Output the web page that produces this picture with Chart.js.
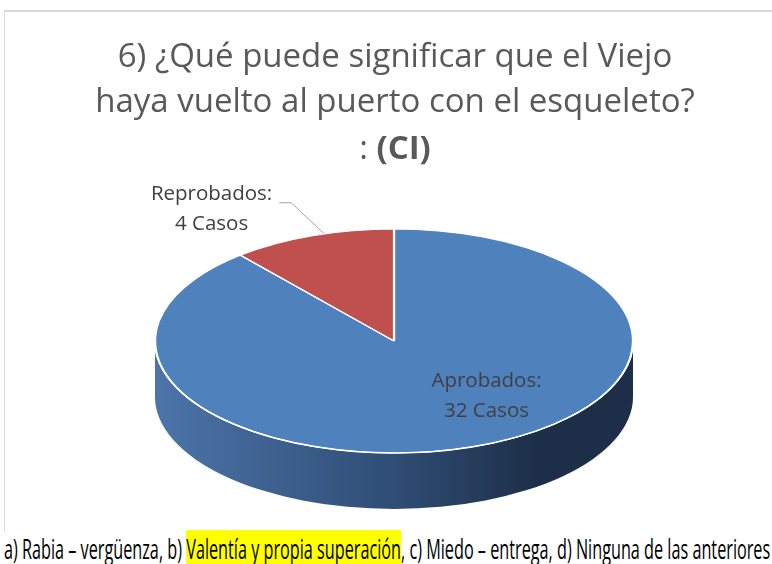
<!DOCTYPE html>
<html>
<head>
<meta charset="utf-8">
<script src="https://cdn.jsdelivr.net/npm/chart.js@4.4.1/dist/chart.umd.min.js"></script>
<style>
  html, body { margin: 0; padding: 0; background: #fff; width: 772px; height: 564px; overflow: hidden; }
  #frame { position: absolute; left: 4px; top: 10px; width: 790px; height: 520px; border-left: 1px solid #d9d9d9; border-top: 2px solid #d9d9d9; }
  #pieChart { position: absolute; left: 0; top: 0; }
  #note { position: absolute; left: 4px; top: 530px; white-space: nowrap; font-family: "Open Sans", sans-serif; font-size: 27px; line-height: normal; color: #000; transform-origin: 0 0; }
  #note mark { background: #ffff00; color: #000; }
</style>
</head>
<body>
<div id="frame"></div>
<canvas id="pieChart" width="772" height="530"></canvas>
<div id="note"></div>
<script>
////// data //////
const categories = ['Aprobados', 'Reprobados'];
const casos = [32, 4];
const sliceColors = ['#4f81bd', '#c0504d'];
const titleLines = ['6) ¿Qué puede significar que el Viejo', 'haya vuelto al puerto con el esqueleto?'];
const titleTail = [': ', '(CI)']; // normal + bold
const respuestas = ['a) Rabia – vergüenza', 'b) Valentía y propia superación', 'c) Miedo – entrega', 'd) Ninguna de las anteriores'];
const correcta = 1; // b)

////// DOM //////
const canvas = document.querySelector('#pieChart');
const note = document.querySelector('#note');

// side shades per slice (left, middle, right)
const sideShades = [['#4c74a9', '#2f4d75', '#1d2f48'], ['#a3423f', '#803533', '#5c2624']];

////// plugins //////
const titlePlugin = {
    id: 'titulo',
    afterDraw(chart, args, opts) {
        const ctx = chart.ctx;
        ctx.save();
        ctx.fillStyle = opts.color;
        ctx.textBaseline = 'middle';
        ctx.textAlign = 'center';
        ctx.font = `${opts.size}px ${opts.family}`;
        titleLines.forEach((t, i) => ctx.fillText(t, opts.x, opts.y + i * opts.lineHeight));
        // last line: normal ":" + bold "(CI)"
        const y = opts.y + titleLines.length * opts.lineHeight + 2;
        ctx.font = `${opts.size}px ${opts.family}`;
        const w1 = ctx.measureText(titleTail[0]).width;
        ctx.font = `bold ${opts.size}px ${opts.family}`;
        const w2 = ctx.measureText(titleTail[1]).width;
        let x = opts.x - (w1 + w2) / 2;
        ctx.textAlign = 'left';
        ctx.font = `${opts.size}px ${opts.family}`;
        ctx.fillText(titleTail[0], x, y);
        ctx.font = `bold ${opts.size}px ${opts.family}`;
        ctx.fillText(titleTail[1], x + w1, y);
        ctx.restore();
    }
};

const pie3d = {
    id: 'pie3d',
    beforeDatasetsDraw(chart, args, opts) {
        const ctx = chart.ctx;
        const arcs = chart.getDatasetMeta(0).data;
        const cx = arcs[0].x, cy = arcs[0].y, R = arcs[0].outerRadius;
        const { rx, ry, depth } = opts;
        // side wall, only the front half (0..PI) shows
        arcs.forEach((arc, i) => {
            const g = ctx.createLinearGradient(cx - rx, 0, cx + rx, 0);
            g.addColorStop(0, sideShades[i][0]);
            g.addColorStop(0.5, sideShades[i][1]);
            g.addColorStop(0.8, sideShades[i][2]);
            g.addColorStop(1, sideShades[i][2]);
            [-2 * Math.PI, 0, 2 * Math.PI].forEach(off => {
                const s = Math.max(arc.startAngle, off);
                const e = Math.min(arc.endAngle, off + Math.PI);
                if (e <= s) return;
                ctx.beginPath();
                ctx.ellipse(cx, cy, rx, ry, 0, s, e);
                ctx.ellipse(cx, cy + depth, rx, ry, 0, e, s, true);
                ctx.closePath();
                ctx.fillStyle = g;
                ctx.fill();
            });
        });
        ctx.save();
        ctx.translate(cx, cy);
        ctx.scale(rx / R, ry / R);
        ctx.translate(-cx, -cy);
    },
    afterDatasetsDraw(chart, args, opts) {
        const ctx = chart.ctx;
        ctx.restore();
        const arcs = chart.getDatasetMeta(0).data;
        const cx = arcs[0].x, cy = arcs[0].y;
        const { rx, ry } = opts;
        // white rim on the front edge
        ctx.save();
        ctx.strokeStyle = '#ffffff';
        ctx.lineWidth = 1.5;
        ctx.beginPath();
        ctx.ellipse(cx, cy, rx, ry, 0, -0.05, Math.PI + 0.05);
        ctx.stroke();

        // data labels
        ctx.fillStyle = opts.labelColor;
        ctx.font = `${opts.labelSize}px ${opts.labelFamily}`;
        ctx.textAlign = 'center';
        ctx.textBaseline = 'middle';
        arcs.forEach((arc, i) => {
            const lines = [`${categories[i]}:`, `${casos[i]} Casos`];
            const mid = (arc.startAngle + arc.endAngle) / 2;
            const share = casos[i] / casos.reduce((a, b) => a + b, 0);
            if (share > 0.25) {
                const px = cx + rx * opts.inside.r * Math.cos(mid) + opts.inside.dx;
                const py = cy + ry * opts.inside.r * Math.sin(mid);
                lines.forEach((l, k) => ctx.fillText(l, px, py + (k - 0.5) * opts.labelLine));
            } else {
                const px = cx + rx * Math.cos(mid) + opts.outside.startDx;
                const py = cy + ry * Math.sin(mid) + opts.outside.startDy;
                const ex = px + opts.outside.elbow[0], ey = py + opts.outside.elbow[1];
                const tx = ex - opts.outside.tail;
                ctx.strokeStyle = '#a6a6a6';
                ctx.lineWidth = 1;
                ctx.beginPath();
                ctx.moveTo(px, py);
                ctx.lineTo(ex, ey);
                ctx.lineTo(tx, ey);
                ctx.stroke();
                const w = Math.max(...lines.map(l => ctx.measureText(l).width));
                const lx = tx - opts.outside.gap - w / 2;
                lines.forEach((l, k) => ctx.fillText(l, lx, ey - 9 + k * opts.labelLine));
            }
        });
        ctx.restore();
    }
};

////// chart //////
let pieChart = new Chart(canvas, {
    type: 'pie',
    data: {
        labels: categories,
        datasets: [{
            data: casos,
            backgroundColor: sliceColors,
            borderColor: '#ffffff',
            borderWidth: 1.5
        }]
    },
    options: {
        responsive: false,
        animation: false,
        events: [],
        layout: { padding: { top: 180, bottom: 28, left: 16, right: 0 } },
        plugins: {
            legend: { display: false },
            tooltip: { enabled: false },
            titulo: { x: 395, y: 58, lineHeight: 45, size: 33, family: '"Open Sans"', color: '#595959' },
            pie3d: {
                rx: 239, ry: 112, depth: 56,
                labelColor: '#404040', labelSize: 20.5, labelFamily: '"Open Sans"', labelLine: 30,
                inside: { r: 0.52, dx: 50 },
                outside: { startDx: 12, startDy: -2, elbow: [-33, -31], tail: 12, gap: 7 }
            }
        }
    },
    plugins: [pie3d, titlePlugin]
});

////// footnote //////
note.innerHTML = respuestas.map((r, i) => {
    if (i !== correcta) return r;
    const [letra, ...resto] = r.split(' ');
    return `${letra} <mark>${resto.join(' ')}</mark>`;
}).join(', ');
const noteScale = 766 / note.scrollWidth;
note.style.transform = `scaleX(${noteScale})`;
</script>
</body>
</html>
